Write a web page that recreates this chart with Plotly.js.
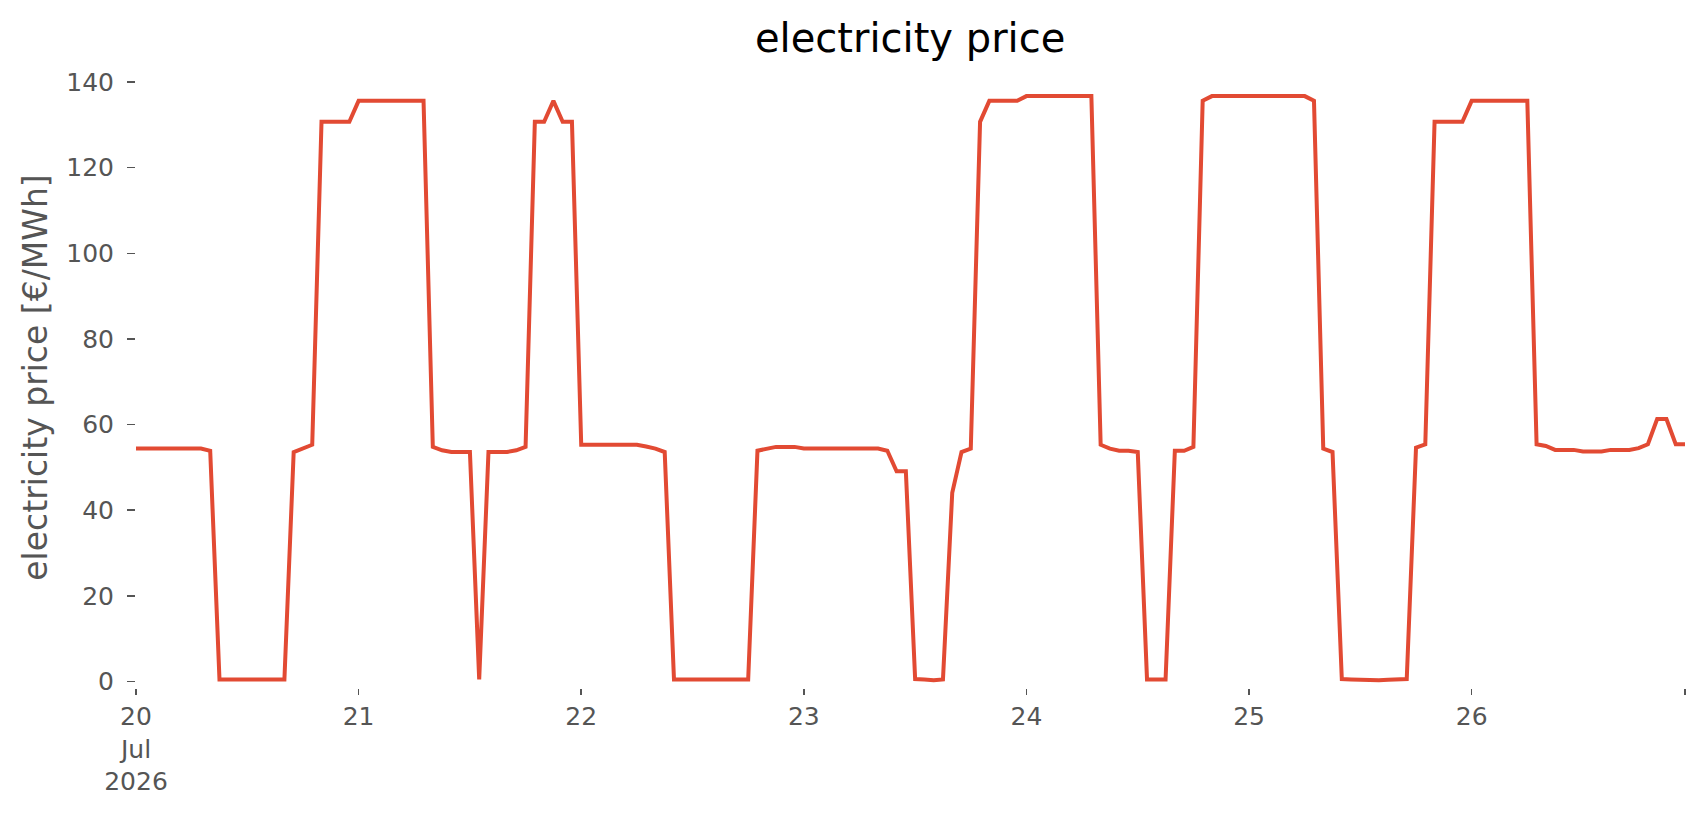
<!DOCTYPE html>
<html>
<head>
<meta charset="utf-8">
<script src="https://cdn.plot.ly/plotly-3.0.1.min.js"></script>
<style>html,body{margin:0;padding:0;background:#fff;}#chart{width:1706px;height:815px;}</style>
</head>
<body>
<div id="chart"></div>
<script>
// hourly snapshots starting 2026-07-20 00:00
const startTime = '2026-07-20T00:00:00';
const day20 = [54.4,54.4,54.4,54.4,54.4,54.4,54.4,54.4,53.9,0.5,0.5,0.5,0.5,0.5,0.5,0.5,0.5,53.6,54.4,55.3,130.7,130.7,130.7,130.7];
const day21 = [135.6,135.6,135.6,135.6,135.6,135.6,135.6,135.6,54.8,54.0,53.6,53.6,53.6,0.5,53.6,53.6,53.6,54.0,54.8,130.7,130.7,135.6,130.7,130.7];
const day22 = [55.3,55.3,55.3,55.3,55.3,55.3,55.3,54.9,54.4,53.6,0.5,0.5,0.5,0.5,0.5,0.5,0.5,0.5,0.5,53.9,54.4,54.8,54.8,54.8];
const day23 = [54.4,54.4,54.4,54.4,54.4,54.4,54.4,54.4,54.4,53.9,49.1,49.1,0.6,0.5,0.3,0.5,44.1,53.6,54.4,130.7,135.6,135.6,135.6,135.6];
const day24 = [136.7,136.7,136.7,136.7,136.7,136.7,136.7,136.7,55.3,54.4,53.9,53.9,53.6,0.5,0.5,0.5,53.9,53.9,54.8,135.6,136.7,136.7,136.7,136.7];
const day25 = [136.7,136.7,136.7,136.7,136.7,136.7,136.7,135.6,54.4,53.6,0.6,0.5,0.4,0.3,0.3,0.4,0.5,0.6,54.6,55.4,130.7,130.7,130.7,130.7];
const day26 = [135.6,135.6,135.6,135.6,135.6,135.6,135.6,55.4,55.0,54.1,54.1,54.1,53.7,53.7,53.7,54.1,54.1,54.1,54.5,55.4,61.3,61.3,55.4,55.4];
const price = [].concat(day20, day21, day22, day23, day24, day25, day26);

const tickDates = ['2026-07-20','2026-07-21','2026-07-22','2026-07-23','2026-07-24','2026-07-25','2026-07-26','2026-07-26 23:00'];
const tickLabels = ['20<br>Jul<br>2026','21','22','23','24','25','26',''];
const yTicks = [0,20,40,60,80,100,120,140];

function pad(n){return (n<10?'0':'')+n;}
const t0 = new Date(startTime+'Z').getTime();
const times = price.map((_, i) => {
  const d = new Date(t0 + i*3600*1000);
  return d.getUTCFullYear()+'-'+pad(d.getUTCMonth()+1)+'-'+pad(d.getUTCDate())+' '+pad(d.getUTCHours())+':00';
});

const trace = {
  x: times, y: price, type: 'scatter', mode: 'lines',
  line: {color: '#E24A33', width: 4}, hoverinfo: 'x+y'
};

const layout = {
  width: 1706, height: 815,
  paper_bgcolor: '#ffffff', plot_bgcolor: '#ffffff',
  margin: {l: 136, r: 21, t: 67, b: 127},
  font: {family: 'DejaVu Sans, sans-serif', color: '#555555'},
  showlegend: false,
  title: {text: 'electricity price', font: {size: 40, color: '#000000', family: 'DejaVu Sans, sans-serif'},
          x: 0.5335, xanchor: 'center', y: 0.953, yanchor: 'middle'},
  xaxis: {
    type: 'date', range: [times[0], times[times.length-1]],
    tickmode: 'array', tickvals: tickDates, ticktext: tickLabels,
    ticks: 'outside', ticklen: 6, tickwidth: 1.6, tickcolor: '#555555',
    tickfont: {size: 25, color: '#555555'},
    showgrid: false, zeroline: false, showline: false, automargin: false
  },
  yaxis: {
    range: [-1.5, 143.5], tickmode: 'array', tickvals: yTicks,
    ticks: 'outside', ticklen: 8, tickwidth: 1.6, tickcolor: '#555555',
    ticklabelstandoff: 8,
    tickfont: {size: 25, color: '#555555'},
    showgrid: false, zeroline: false, showline: false, automargin: false,
    title: {text: 'electricity price [€/MWh]', font: {size: 33, color: '#555555'}, standoff: 8}
  }
};

Plotly.newPlot('chart', [trace], layout, {displayModeBar: false, staticPlot: true});
</script>
</body>
</html>
